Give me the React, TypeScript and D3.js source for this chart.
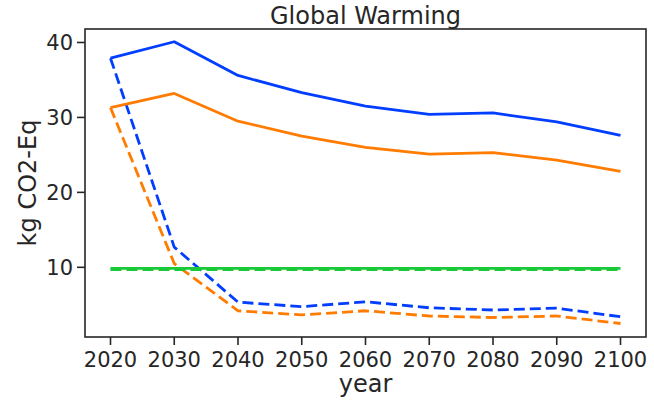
import React from "react";
import * as d3 from "d3";

const years = [2020, 2030, 2040, 2050, 2060, 2070, 2080, 2090, 2100];
const blueSolid = [37.9, 40.1, 35.6, 33.3, 31.5, 30.4, 30.6, 29.4, 27.6];
const blueDashed = [37.9, 12.7, 5.35, 4.75, 5.4, 4.6, 4.3, 4.55, 3.4];
const orangeSolid = [31.3, 33.2, 29.5, 27.5, 26.0, 25.1, 25.3, 24.3, 22.8];
const orangeDashed = [31.3, 10.5, 4.2, 3.65, 4.2, 3.5, 3.3, 3.5, 2.5];
const greenSolid = [9.85, 9.85, 9.85, 9.85, 9.85, 9.85, 9.85, 9.85, 9.85];
const greenDashed = [9.68, 9.68, 9.68, 9.68, 9.68, 9.68, 9.68, 9.68, 9.68];
const yTicks = [10, 20, 30, 40];
const xTicks = years;

const W = 654, H = 402;
const m = { left: 85, right: 646, top: 29, bottom: 337 };
const FONT = "DejaVu Sans, sans-serif";
const INK = "#262626";

export default function App() {
  const x = d3.scaleLinear().domain([2016, 2104]).range([m.left, m.right]);
  const y = d3.scaleLinear().domain([0.7, 41.8]).range([m.bottom, m.top]);
  const line = d3.line<number>().x((_, i) => x(years[i])).y((d) => y(d));
  const series = [
    { v: blueSolid, c: "#023eff", dash: null },
    { v: blueDashed, c: "#023eff", dash: "11,5" },
    { v: orangeSolid, c: "#ff7c00", dash: null },
    { v: orangeDashed, c: "#ff7c00", dash: "11,5" },
    { v: greenDashed, c: "#1ac938", dash: "11,5" },
    { v: greenSolid, c: "#1ac938", dash: null },
  ];
  return (
    <svg width={W} height={H} style={{ position: "absolute", left: 0, top: 0, background: "#fff" }} fontFamily={FONT}>
      <rect x={0} y={0} width={W} height={H} fill="#fff" />
      <defs>
        <clipPath id="clip">
          <rect x={m.left} y={m.top} width={m.right - m.left} height={m.bottom - m.top} />
        </clipPath>
      </defs>
      <g clipPath="url(#clip)">
        {series.map((s, i) => (
          <path key={i} d={line(s.v) || ""} fill="none" stroke={s.c} strokeWidth={2.8}
            strokeDasharray={s.dash || undefined} strokeLinejoin="round" />
        ))}
      </g>
      <rect x={m.left} y={m.top} width={m.right - m.left} height={m.bottom - m.top}
        fill="none" stroke={INK} strokeWidth={1.6} />
      {yTicks.map((t) => (
        <g key={t}>
          <line x1={m.left - 8} x2={m.left} y1={y(t)} y2={y(t)} stroke={INK} strokeWidth={1.6} />
          <text x={m.left - 12} y={y(t)} dy="0.36em" textAnchor="end" fontSize={21} fill={INK}>{t}</text>
        </g>
      ))}
      {xTicks.map((t) => (
        <g key={t}>
          <line x1={x(t)} x2={x(t)} y1={m.bottom} y2={m.bottom + 8} stroke={INK} strokeWidth={1.6} />
          <text x={x(t)} y={m.bottom + 30} textAnchor="middle" fontSize={21} fill={INK}>{t}</text>
        </g>
      ))}
      <text x={(m.left + m.right) / 2} y={24} textAnchor="middle" fontSize={24} fill={INK}>Global Warming</text>
      <text x={x(2060)} y={392} textAnchor="middle" fontSize={24} fill={INK}>year</text>
      <text transform={`translate(36,${(m.top + m.bottom) / 2}) rotate(-90)`} textAnchor="middle" fontSize={24} fill={INK}>kg CO2-Eq</text>
    </svg>
  );
}
